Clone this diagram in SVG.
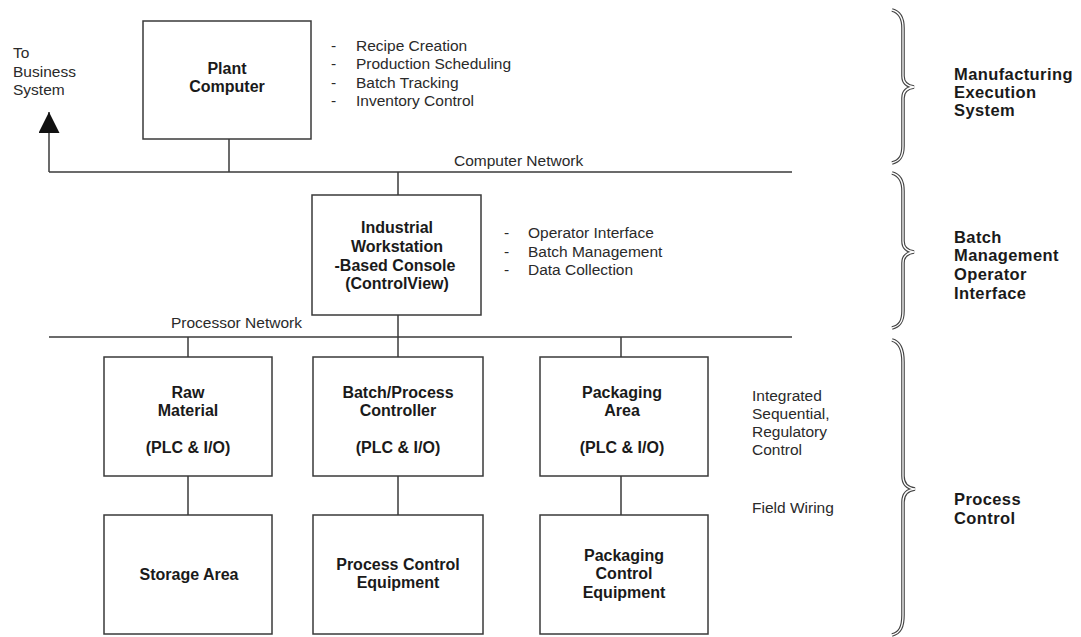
<svg xmlns="http://www.w3.org/2000/svg" width="1081" height="637" viewBox="0 0 1081 637">
<defs>
<style>
.box{fill:#fff;stroke:#3a3a3a;stroke-width:1.5}
.ln{stroke:#3a3a3a;stroke-width:1.5;fill:none}
.b{font-family:"Liberation Sans",Arial,sans-serif;font-weight:bold;font-size:16px;fill:#1a1a1a;text-anchor:middle}
.r{font-family:"Liberation Sans",Arial,sans-serif;font-size:15.5px;fill:#2a2a2a}
.lab{font-family:"Liberation Sans",Arial,sans-serif;font-weight:bold;font-size:16.5px;fill:#1a1a1a;letter-spacing:0.4px}
.bo{fill:none;stroke:#444;stroke-width:3.6}
.bi{fill:none;stroke:#fff;stroke-width:1.3}
</style>
<marker id="arr" viewBox="0 0 10 10" refX="10" refY="5" markerWidth="21" markerHeight="21" markerUnits="userSpaceOnUse" orient="auto">
<path d="M0,0 L10,5 L0,10 z" fill="#111"/>
</marker>
</defs>
<rect width="1081" height="637" fill="#fff"/>

<g id="connectors">
<line class="ln" x1="49" y1="172" x2="792" y2="172"/>
<path class="ln" d="M49,172 L49,112" marker-end="url(#arr)"/>
<line class="ln" x1="229" y1="139" x2="229" y2="172"/>
<line class="ln" x1="398" y1="172" x2="398" y2="195"/>
<line class="ln" x1="49" y1="337" x2="792" y2="337"/>
<line class="ln" x1="398" y1="315" x2="398" y2="357"/>
<line class="ln" x1="188" y1="337" x2="188" y2="357"/>
<line class="ln" x1="621" y1="337" x2="621" y2="357"/>
<line class="ln" x1="188" y1="476" x2="188" y2="515"/>
<line class="ln" x1="398" y1="476" x2="398" y2="515"/>
<line class="ln" x1="621" y1="476" x2="621" y2="515"/>
</g>

<g id="labels">
<text class="r" x="13" y="58" font-size="15">To</text>
<text class="r" x="13" y="77" font-size="15">Business</text>
<text class="r" x="13" y="95" font-size="15">System</text>
<text class="r" x="454" y="166">Computer Network</text>
<text class="r" x="171" y="328">Processor Network</text>
</g>

<g id="plant-computer">
<rect class="box" x="143" y="21" width="168" height="118"/>
<text class="b" x="227" y="74">Plant</text>
<text class="b" x="227" y="92">Computer</text>
</g>
<g id="mes-functions" class="r">
<text x="331" y="51">-</text><text x="356" y="51">Recipe Creation</text>
<text x="331" y="69">-</text><text x="356" y="69">Production Scheduling</text>
<text x="331" y="88">-</text><text x="356" y="88">Batch Tracking</text>
<text x="331" y="106">-</text><text x="356" y="106">Inventory Control</text>
</g>

<g id="workstation">
<rect class="box" x="312" y="195" width="169" height="120"/>
<text class="b" x="397" y="233">Industrial</text>
<text class="b" x="397" y="252">Workstation</text>
<text class="b" x="395" y="271">-Based Console</text>
<text class="b" x="397" y="289">(ControlView)</text>
</g>
<g id="bm-functions" class="r">
<text x="504" y="238">-</text><text x="528" y="238">Operator Interface</text>
<text x="504" y="257">-</text><text x="528" y="257">Batch Management</text>
<text x="504" y="275">-</text><text x="528" y="275">Data Collection</text>
</g>

<g id="raw-material">
<rect class="box" x="104" y="357" width="168" height="119"/>
<text class="b" x="188" y="398">Raw</text>
<text class="b" x="188" y="416">Material</text>
<text class="b" x="188" y="453">(PLC &amp; I/O)</text>
</g>
<g id="batch-controller">
<rect class="box" x="313" y="357" width="170" height="119"/>
<text class="b" x="398" y="398">Batch/Process</text>
<text class="b" x="398" y="416">Controller</text>
<text class="b" x="398" y="453">(PLC &amp; I/O)</text>
</g>
<g id="packaging-area">
<rect class="box" x="540" y="357" width="168" height="119"/>
<text class="b" x="622" y="398">Packaging</text>
<text class="b" x="622" y="416">Area</text>
<text class="b" x="622" y="453">(PLC &amp; I/O)</text>
</g>
<g id="storage-area">
<rect class="box" x="104" y="515" width="168" height="119"/>
<text class="b" x="189" y="580">Storage Area</text>
</g>
<g id="process-equipment">
<rect class="box" x="313" y="515" width="170" height="119"/>
<text class="b" x="398" y="570">Process Control</text>
<text class="b" x="398" y="588">Equipment</text>
</g>
<g id="packaging-equipment">
<rect class="box" x="540" y="515" width="168" height="119"/>
<text class="b" x="624" y="561">Packaging</text>
<text class="b" x="624" y="579">Control</text>
<text class="b" x="624" y="598">Equipment</text>
</g>

<g id="pc-notes" class="r">
<text x="752" y="401">Integrated</text>
<text x="752" y="419">Sequential,</text>
<text x="752" y="437">Regulatory</text>
<text x="752" y="455">Control</text>
<text x="752" y="513">Field Wiring</text>
</g>

<g id="brace-mes">
<path class="bo" d="M892,10 C900,12 903,18 903,28 L903,76 C903,82 906,86 914,87 C906,88 903,92 903,98 L903,146 C903,156 900,161 892,163"/>
<path class="bi" d="M892,10 C900,12 903,18 903,28 L903,76 C903,82 906,86 914,87 C906,88 903,92 903,98 L903,146 C903,156 900,161 892,163"/>
<text class="lab" x="954" y="80">Manufacturing</text>
<text class="lab" x="954" y="98">Execution</text>
<text class="lab" x="954" y="116">System</text>
</g>
<g id="brace-bm">
<path class="bo" d="M892,173 C900,175 903,181 903,191 L903,241 C903,247 906,251 914,252 C906,253 903,257 903,263 L903,311 C903,321 900,326 892,328"/>
<path class="bi" d="M892,173 C900,175 903,181 903,191 L903,241 C903,247 906,251 914,252 C906,253 903,257 903,263 L903,311 C903,321 900,326 892,328"/>
<text class="lab" x="954" y="243">Batch</text>
<text class="lab" x="954" y="261">Management</text>
<text class="lab" x="954" y="280">Operator</text>
<text class="lab" x="954" y="299">Interface</text>
</g>
<g id="brace-pc">
<path class="bo" d="M892,340 C900,342 903,350 903,362 L903,476 C903,483 906,488 915,489 C906,490 903,495 903,502 L903,615 C903,627 900,633 892,635"/>
<path class="bi" d="M892,340 C900,342 903,350 903,362 L903,476 C903,483 906,488 915,489 C906,490 903,495 903,502 L903,615 C903,627 900,633 892,635"/>
<text class="lab" x="954" y="505">Process</text>
<text class="lab" x="954" y="524">Control</text>
</g>
</svg>
